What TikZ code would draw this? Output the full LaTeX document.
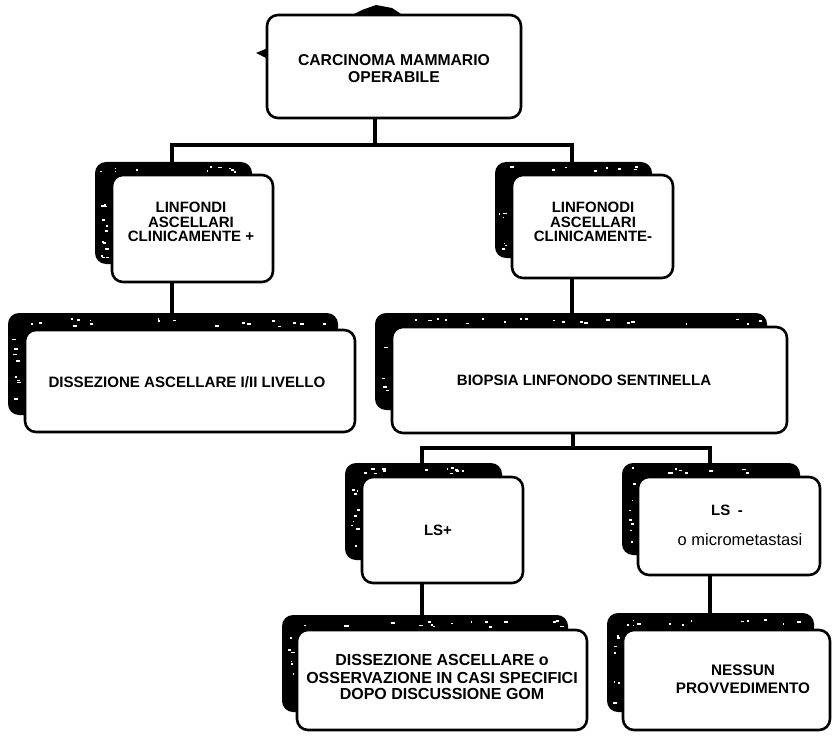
\documentclass[tikz,border=0pt]{standalone}
\usepackage{fontspec}
\setmainfont{Liberation Sans}
\usetikzlibrary{fit}
% scatter small white flecks over a band of a dark shadow: x1, x2, y1, y2, count
\newcommand\fleckband[5]{%
  \foreach \k in {1,...,#5}{%
    \pgfmathsetmacro\fx{#1+rnd*(#2-#1)}%
    \pgfmathsetmacro\fy{#3+rnd*(#4-#3)}%
    \pgfmathsetmacro\fw{1+rnd*3}%
    \fill[white] (\fx,\fy) rectangle ++(\fw,1.8);
  }}
\begin{document}
\begin{tikzpicture}[x=1pt,y=-1pt,
  card/.style={draw=black, line width=2.6pt, rounded corners=11pt, fill=white, inner sep=0pt},
  shadowbox/.style={fill=black, rounded corners=11pt, inner sep=0pt},
  conn/.style={draw=black, line width=3.4pt},
  lbl/.style={font=\bfseries\fontsize{15}{14.2}\selectfont, align=center, inner sep=0pt}]

% page
\fill[white] (0,0) rectangle (834,738);
\useasboundingbox (0,0) rectangle (834,738);
\pgfmathsetseed{4711}

% ---- shadows ----
\node[shadowbox, fit={(95,162)(252,264)}] (sL) {};
\node[shadowbox, fit={(495,162)(652,258)}] (sR) {};
\node[shadowbox, fit={(8,313)(338,415)}] (sD) {};
\node[shadowbox, fit={(375,313)(767,410)}] (sB) {};
\node[shadowbox, fit={(345,463)(502,560)}] (sP) {};
\node[shadowbox, fit={(622,463)(800,555)}] (sM) {};
\node[shadowbox, fit={(282,615)(568,712)}] (sX) {};
\node[shadowbox, fit={(607,613)(814,712)}] (sN) {};
% bits of the top shadow peeking out
\fill[black] (350,16) -- (362,10) -- (376,5) -- (392,8) -- (404,16) -- cycle;
\fill[black] (268,48) -- (256,53) -- (268,59) -- cycle;

% flecks in the shadow bands
\fleckband{100}{245}{166}{171}{10}
\fleckband{99}{108}{175}{258}{12}
\fleckband{500}{645}{166}{171}{8}
\fleckband{499}{508}{200}{252}{6}
\fleckband{14}{330}{318}{326}{18}
\fleckband{12}{21}{335}{408}{8}
\fleckband{380}{760}{318}{323}{20}
\fleckband{379}{388}{330}{405}{5}
\fleckband{350}{495}{467}{473}{12}
\fleckband{349}{358}{480}{552}{9}
\fleckband{627}{795}{467}{473}{9}
\fleckband{626}{634}{480}{548}{7}
\fleckband{287}{560}{620}{626}{16}
\fleckband{286}{293}{632}{705}{6}
\fleckband{612}{808}{618}{625}{12}
\fleckband{611}{619}{632}{705}{7}

% ---- cards ----
\node[card, fit={(267,15)(521,118)}] (top) {};
\node[card, fit={(112,175)(273,282)}] (cL) {};
\node[card, fit={(512,175)(673,278)}] (cR) {};
\node[card, fit={(25,330)(355,432)}] (dis) {};
\node[card, fit={(392,327)(787,433)}] (bio) {};
\node[card, fit={(362,477)(523,583)}] (pos) {};
\node[card, fit={(638,477)(820,575)}] (neg) {};
\node[card, fit={(297,630)(587,730)}] (dx) {};
\node[card, fit={(623,630)(830,730)}] (nx) {};

% ---- texts ----
\node[lbl, font=\bfseries\fontsize{15.7}{17}\selectfont] (ttop) at (394,69) {CARCINOMA MAMMARIO\\OPERABILE};
\node[lbl] (tL) at (191,222) {LINFONDI\\ASCELLARI\\CLINICAMENTE +};
\node[lbl] (tR) at (593,222) {LINFONODI\\ASCELLARI\\CLINICAMENTE-};
\node[lbl, font=\bfseries\fontsize{15.1}{15}\selectfont] (tD) at (187,382) {DISSEZIONE ASCELLARE I/II LIVELLO};
\node[lbl, font=\bfseries\fontsize{15}{15}\selectfont] (tB) at (584,380) {BIOPSIA LINFONODO SENTINELLA};
\node[lbl] (tP) at (438,530) {LS+};
\node[lbl, anchor=base] (tM1) at (727,515) {LS\enspace-};
\node[lbl, anchor=base, font=\fontsize{16.5}{17}\selectfont] (tM2) at (740,545) {o micrometastasi};
\node[lbl, font=\bfseries\fontsize{16}{16.5}\selectfont] (tX) at (442,677) {DISSEZIONE ASCELLARE o\\[1.5pt]OSSERVAZIONE IN CASI SPECIFICI\\DOPO DISCUSSIONE GOM};
\node[lbl, font=\bfseries\fontsize{15.3}{18}\selectfont] (tN) at (743,679) {NESSUN\\PROVVEDIMENTO};

% ---- connectors ----
\coordinate (j1) at (375,145);
\coordinate (bL) at (172,145);
\coordinate (bR) at (572,145);
\draw[conn] (top.south -| j1) -- (j1);
\draw[conn] (bL |- sL.north) -- (bL) -- (bR) -- (bR |- sR.north);
\draw[conn] (cL.south -| bL) -- (sD.north -| bL);
\draw[conn] (cR.south -| bR) -- (sB.north -| bR);

\coordinate (j2) at (573,448);
\coordinate (bL2) at (422,448);
\coordinate (bR2) at (710,448);
\draw[conn] (bio.south -| j2) -- (j2);
\draw[conn] (bL2 |- sP.north) -- (bL2) -- (bR2) -- (bR2 |- sM.north);
\draw[conn] (pos.south -| bL2) -- (sX.north -| bL2);
\draw[conn] (neg.south -| bR2) -- (sN.north -| bR2);
\end{tikzpicture}
\end{document}
